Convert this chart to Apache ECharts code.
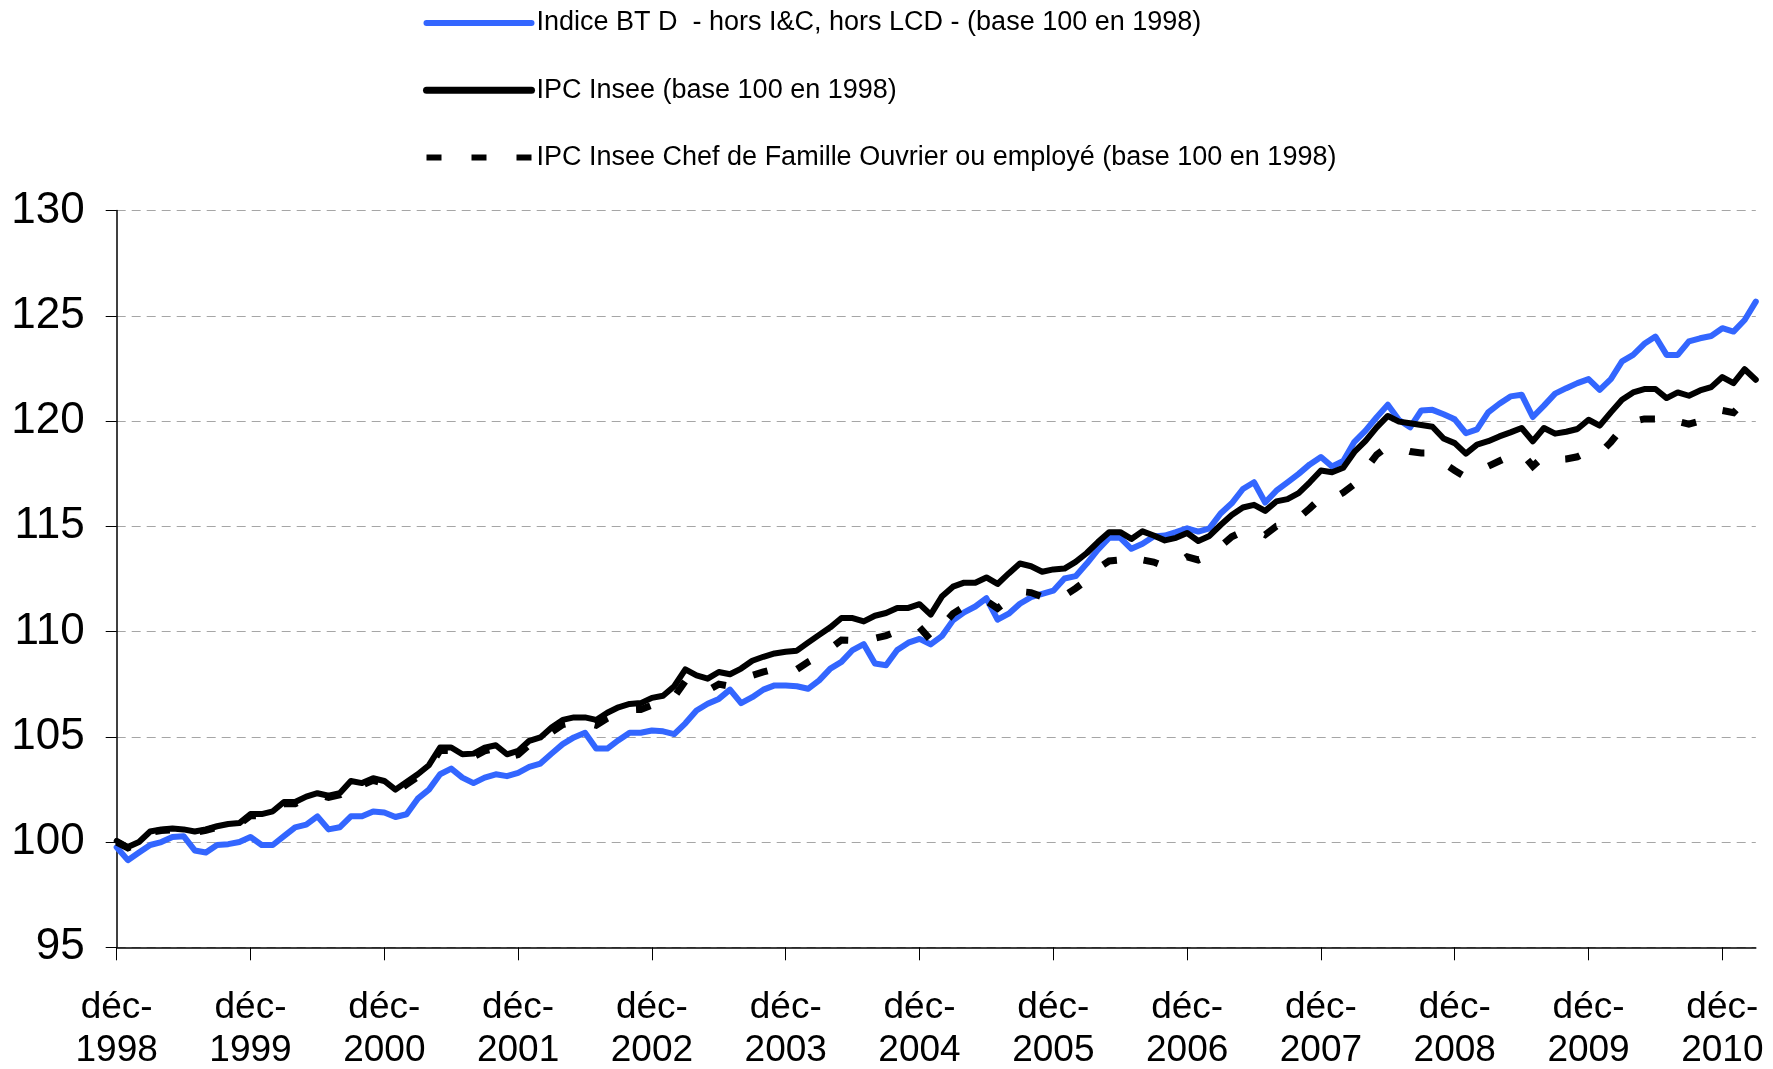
<!DOCTYPE html>
<html>
<head>
<meta charset="utf-8">
<script src="https://cdn.jsdelivr.net/npm/echarts@6/dist/echarts.min.js"></script>
<style>
html,body{margin:0;padding:0;background:#fff;}
#c{width:1773px;height:1069px;}
</style>
</head>
<body>
<div id="c"></div>
<script>
// Monthly categories, déc-1998 .. mars-2011
const categories = [
'déc-1998',
'janv-1999','févr-1999','mars-1999','avr-1999','mai-1999','juin-1999','juil-1999','août-1999','sept-1999','oct-1999','nov-1999','déc-1999',
'janv-2000','févr-2000','mars-2000','avr-2000','mai-2000','juin-2000','juil-2000','août-2000','sept-2000','oct-2000','nov-2000','déc-2000',
'janv-2001','févr-2001','mars-2001','avr-2001','mai-2001','juin-2001','juil-2001','août-2001','sept-2001','oct-2001','nov-2001','déc-2001',
'janv-2002','févr-2002','mars-2002','avr-2002','mai-2002','juin-2002','juil-2002','août-2002','sept-2002','oct-2002','nov-2002','déc-2002',
'janv-2003','févr-2003','mars-2003','avr-2003','mai-2003','juin-2003','juil-2003','août-2003','sept-2003','oct-2003','nov-2003','déc-2003',
'janv-2004','févr-2004','mars-2004','avr-2004','mai-2004','juin-2004','juil-2004','août-2004','sept-2004','oct-2004','nov-2004','déc-2004',
'janv-2005','févr-2005','mars-2005','avr-2005','mai-2005','juin-2005','juil-2005','août-2005','sept-2005','oct-2005','nov-2005','déc-2005',
'janv-2006','févr-2006','mars-2006','avr-2006','mai-2006','juin-2006','juil-2006','août-2006','sept-2006','oct-2006','nov-2006','déc-2006',
'janv-2007','févr-2007','mars-2007','avr-2007','mai-2007','juin-2007','juil-2007','août-2007','sept-2007','oct-2007','nov-2007','déc-2007',
'janv-2008','févr-2008','mars-2008','avr-2008','mai-2008','juin-2008','juil-2008','août-2008','sept-2008','oct-2008','nov-2008','déc-2008',
'janv-2009','févr-2009','mars-2009','avr-2009','mai-2009','juin-2009','juil-2009','août-2009','sept-2009','oct-2009','nov-2009','déc-2009',
'janv-2010','févr-2010','mars-2010','avr-2010','mai-2010','juin-2010','juil-2010','août-2010','sept-2010','oct-2010','nov-2010','déc-2010',
'janv-2011','févr-2011','mars-2011'
];

const seriesNames = [
  'Indice BT D  - hors I&C, hors LCD - (base 100 en 1998)',
  'IPC Insee (base 100 en 1998)',
  'IPC Insee Chef de Famille Ouvrier ou employé (base 100 en 1998)'
];

const indiceBTD = [
99.75, 99.14, 99.5, 99.86, 100.0, 100.24, 100.28, 99.6, 99.5, 99.86, 99.9, 100.0,
100.24, 99.86, 99.86, 100.28, 100.7, 100.83, 101.22, 100.6, 100.7, 101.22, 101.22, 101.45,
101.4, 101.19, 101.32, 102.06, 102.49, 103.22, 103.49, 103.06, 102.8, 103.06, 103.22, 103.13,
103.29, 103.57, 103.73, 104.2, 104.65, 104.97, 105.19, 104.44, 104.44, 104.84, 105.19, 105.19,
105.3, 105.26, 105.13, 105.64, 106.25, 106.57, 106.8, 107.24, 106.6, 106.88, 107.24, 107.44,
107.44, 107.4, 107.28, 107.68, 108.24, 108.56, 109.12, 109.4, 108.48, 108.4, 109.12, 109.47,
109.65, 109.39, 109.78, 110.53, 110.91, 111.19, 111.58, 110.56, 110.85, 111.32, 111.63, 111.79,
111.94, 112.52, 112.63, 113.23, 113.89, 114.45, 114.45, 113.93, 114.17, 114.51, 114.56, 114.72,
114.9, 114.75, 114.9, 115.61, 116.09, 116.77, 117.09, 116.13, 116.69, 117.09, 117.49, 117.94,
118.29, 117.84, 118.1, 119.01, 119.54, 120.18, 120.77, 120.05, 119.7, 120.5, 120.53, 120.32,
120.08, 119.42, 119.6, 120.41, 120.82, 121.17, 121.25, 120.19, 120.73, 121.3, 121.56, 121.8,
121.99, 121.48, 121.99, 122.83, 123.14, 123.67, 124.01, 123.14, 123.14, 123.78, 123.93, 124.04,
124.41, 124.25, 124.8, 125.67
];

const ipcInsee = [
100.05, 99.76, 100.0, 100.5, 100.6, 100.64, 100.6, 100.5, 100.6, 100.75, 100.86, 100.9,
101.33, 101.33, 101.46, 101.9, 101.9, 102.16, 102.32, 102.2, 102.32, 102.9, 102.8, 103.03,
102.9, 102.49, 102.86, 103.22, 103.65, 104.49, 104.49, 104.17, 104.2, 104.48, 104.6, 104.17,
104.33, 104.81, 104.97, 105.44, 105.8, 105.92, 105.92, 105.8, 106.14, 106.4, 106.56, 106.6,
106.85, 106.95, 107.4, 108.2, 107.92, 107.76, 108.08, 107.97, 108.24, 108.61, 108.8, 108.96,
109.04, 109.09, 109.47, 109.84, 110.2, 110.64, 110.64, 110.48, 110.75, 110.88, 111.12, 111.12,
111.3, 110.8, 111.66, 112.13, 112.32, 112.32, 112.57, 112.26, 112.76, 113.23, 113.1, 112.84,
112.95, 112.99, 113.31, 113.73, 114.25, 114.72, 114.72, 114.4, 114.76, 114.56, 114.33, 114.45,
114.68, 114.3, 114.54, 115.06, 115.54, 115.89, 116.02, 115.73, 116.18, 116.29, 116.57, 117.09,
117.65, 117.57, 117.78, 118.53, 119.06, 119.7, 120.24, 119.97, 119.89, 119.81, 119.73, 119.17,
118.95, 118.45, 118.88, 119.04, 119.27, 119.46, 119.67, 119.04, 119.67, 119.4, 119.49, 119.62,
120.06, 119.78, 120.41, 121.01, 121.36, 121.52, 121.52, 121.09, 121.36, 121.2, 121.45, 121.61,
122.09, 121.8, 122.46, 121.96
];

const ipcOuvrierEmploye = [
100.0, 99.72, 99.95, 100.45, 100.55, 100.58, 100.55, 100.45, 100.55, 100.7, 100.8, 100.85,
101.25, 101.25, 101.38, 101.82, 101.82, 102.08, 102.24, 102.12, 102.24, 102.8, 102.7, 102.93,
102.78, 102.37, 102.74, 103.1, 103.52, 104.35, 104.35, 104.03, 104.05, 104.33, 104.45, 104.0,
104.15, 104.62, 104.77, 105.22, 105.58, 105.7, 105.68, 105.55, 105.88, 106.12, 106.28, 106.3,
106.5, 106.55, 106.9, 107.65, 107.35, 107.2, 107.5, 107.4, 107.6, 107.92, 108.08, 108.22,
108.28, 108.2, 108.55, 108.85, 109.2, 109.6, 109.58, 109.42, 109.68, 109.8, 110.02, 110.02,
110.2, 109.6, 110.25, 110.85, 111.18, 111.32, 111.45, 111.1, 111.5, 111.9, 111.85, 111.65,
111.85, 111.7, 112.05, 112.45, 113.0, 113.35, 113.4, 113.1, 113.4, 113.3, 113.1, 113.2,
113.55, 113.4, 113.6, 114.05, 114.5, 114.75, 114.85, 114.6, 115.0, 115.1, 115.4, 115.85,
116.35, 116.3, 116.6, 117.0, 117.7, 118.4, 118.8, 118.7, 118.55, 118.48, 118.48, 118.0,
117.65, 117.33, 117.7, 117.85, 118.1, 118.35, 118.48, 117.85, 118.33, 118.17, 118.2, 118.3,
118.55, 118.45, 119.0, 119.65, 119.98, 120.1, 120.1, 119.75, 119.98, 119.85, 120.0, 120.06,
120.5, 120.4, 120.95, 121.55
];

const yMin = 95, yMax = 130, yStep = 5;

const FONT = "'Liberation Sans', Arial, Helvetica, sans-serif";
const BLUE = '#3366FF';

const chart = echarts.init(document.getElementById('c'), null, {renderer: 'canvas'});
chart.setOption({
  animation: false,
  backgroundColor: '#ffffff',
  grid: {left: 116.7, right: 17.2, top: 210.5, bottom: 121.7, containLabel: false, outerBoundsMode: 'none'},
  legend: {
    orient: 'vertical',
    left: 423,
    top: 8,
    padding: 0,
    itemGap: 37.3,
    itemWidth: 105,
    itemHeight: 14,
    selectedMode: false,
    textStyle: {fontFamily: FONT, fontSize: 27, color: '#000', lineHeight: 30},
    data: [
      {name: seriesNames[0], lineStyle: {width: 6, cap: 'round'}, itemStyle: {opacity: 0}},
      {name: seriesNames[1], lineStyle: {width: 7, cap: 'round'}, itemStyle: {opacity: 0}},
      {name: seriesNames[2], lineStyle: {width: 6, cap: 'butt'}, itemStyle: {opacity: 0}}
    ]
  },
  xAxis: {
    type: 'category',
    data: categories,
    boundaryGap: false,
    axisLine: {show: true, lineStyle: {color: '#000', width: 1.5}},
    axisTick: {show: true, interval: 11, length: 13, lineStyle: {color: '#000', width: 1}},
    axisLabel: {
      interval: 11,
      formatter: v => v.replace('-', '-\n'),
      fontFamily: FONT,
      fontSize: 37,
      lineHeight: 43,
      margin: 39,
      color: '#000'
    },
    splitLine: {show: false}
  },
  yAxis: {
    type: 'value',
    min: yMin,
    max: yMax,
    interval: yStep,
    axisLine: {show: true, lineStyle: {color: '#000', width: 1.5}},
    axisTick: {show: true, length: 11, lineStyle: {color: '#000', width: 1}},
    axisLabel: {fontFamily: FONT, fontSize: 44, margin: 32, color: '#000'},
    splitLine: {show: true, lineStyle: {color: '#a6a6a6', width: 1, type: [9, 6]}}
  },
  series: [
    {
      name: seriesNames[0], type: 'line', data: indiceBTD,
      symbol: 'none', showSymbol: false, smooth: false,
      lineStyle: {color: BLUE, width: 6, cap: 'round', join: 'round'},
      itemStyle: {color: BLUE}
    },
    {
      name: seriesNames[1], type: 'line', data: ipcInsee,
      symbol: 'none', showSymbol: false, smooth: false,
      lineStyle: {color: '#000', width: 6, cap: 'round', join: 'round'},
      itemStyle: {color: '#000'}
    },
    {
      name: seriesNames[2], type: 'line', data: ipcOuvrierEmploye,
      symbol: 'none', showSymbol: false, smooth: false,
      lineStyle: {color: '#000', width: 7, type: [15, 30], cap: 'butt', join: 'miter'},
      itemStyle: {color: '#000'}
    }
  ]
});
</script>
</body>
</html>
